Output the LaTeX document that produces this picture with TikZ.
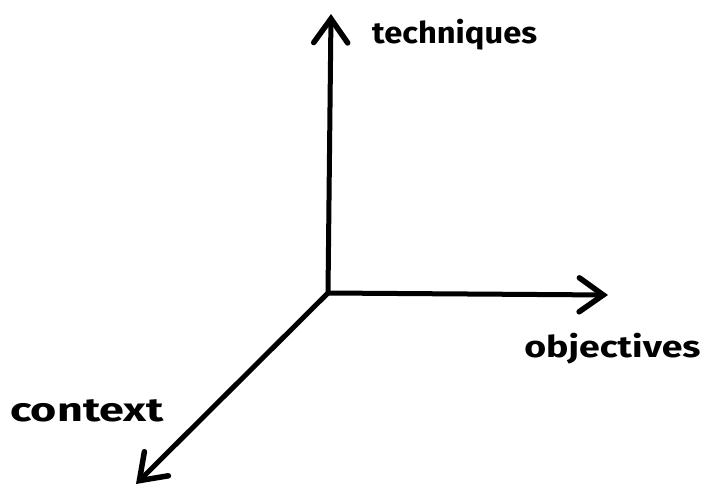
\documentclass[tikz,border=0pt]{standalone}
\usepackage{fontspec}
\setmainfont{Fira Sans}
\usetikzlibrary{arrows.meta}
\begin{document}
\begin{tikzpicture}[x=1pt,y=-1pt,
  axis/.style={line width=5pt,line cap=round,-{Straight Barb[length=24pt,width=34pt,line width=5.5pt,line cap=round]}},
  lab/.style={font=\fontsize{30}{32}\selectfont\bfseries,inner sep=0pt,anchor=base west}]
\useasboundingbox (0,0) rectangle (707,493);
\coordinate (o) at (328,293);
\coordinate (t) at (331,14);
\coordinate (ob) at (608,295);
\coordinate (c) at (136,484);
\draw[axis] (o) -- (t);
\draw[axis] (o) -- (ob);
\draw[axis] (o) -- (c);
\node[lab,xscale=1.09] (tl) at (372,43) {techniques};
\node[lab,xscale=1.25] (ol) at (524,357) {objectives};
\node[lab,font=\fontsize{33}{35}\selectfont\bfseries,xscale=1.36] (cl) at (10,421) {context};
\end{tikzpicture}
\end{document}
